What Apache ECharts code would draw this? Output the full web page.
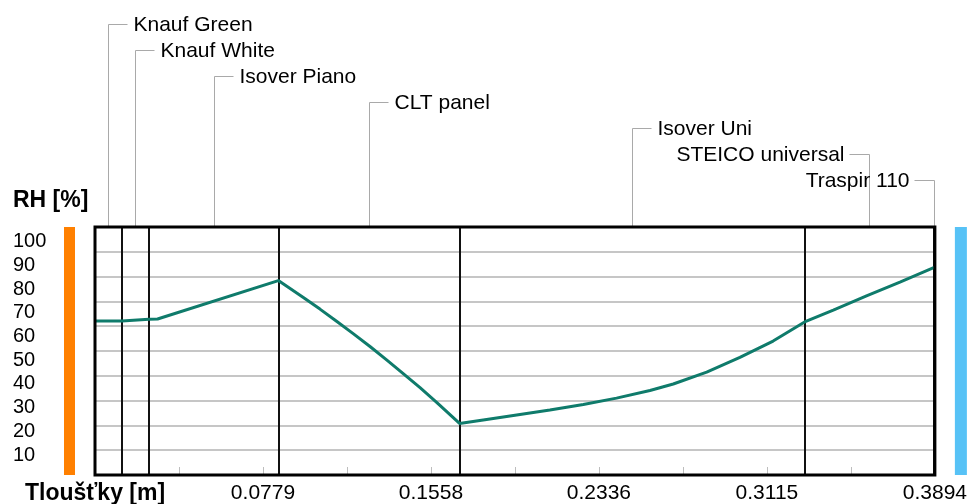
<!DOCTYPE html>
<html>
<head>
<meta charset="utf-8">
<script src="https://cdn.jsdelivr.net/npm/echarts@6/dist/echarts.min.js"></script>
<style>
html,body{margin:0;padding:0;background:#fff;}
#chart{width:970px;height:504px;}
</style>
</head>
<body>
<div id="chart"></div>
<script>
// ---- data ----
const layerNames = ['Knauf Green', 'Knauf White', 'Isover Piano', 'CLT panel', 'Isover Uni', 'STEICO universal', 'Traspir 110'];
const layerThickness = [0.0125, 0.0125, 0.06, 0.084, 0.16, 0.06, 0.0004];
const rhX = [0, 0.0125, 0.025, 0.029, 0.085,
             0.0966, 0.1043, 0.112, 0.1197, 0.1275, 0.1352, 0.1429, 0.1507, 0.1584, 0.169,
             0.18, 0.1955, 0.2109, 0.2264, 0.2418, 0.2573, 0.2681, 0.2836, 0.299, 0.3144, 0.329,
             0.3423, 0.3577, 0.3732, 0.3894];
const rhValues = [62.1, 62.1, 62.8, 62.9, 78.4,
                  71.6, 66.9, 62.0, 57.0, 51.8, 46.4, 40.9, 35.2, 29.3, 20.8,
                  22.2, 24.2, 26.2, 28.4, 31.0, 34.1, 36.7, 41.5, 47.4, 54.0, 61.7,
                  66.5, 72.2, 77.8, 83.8];
const xTickLabels = ['0.0779', '0.1558', '0.2336', '0.3115', '0.3894'];
const yTickLabels = ['10', '20', '30', '40', '50', '60', '70', '80', '90', '100'];
const xAxisName = 'Tloušťky [m]';
const yAxisName = 'RH [%]';
const xMax = 0.3894;
const xStep = 0.03894;

// derived
const boundaries = [];
let acc = 0;
const mids = [];
layerThickness.forEach(t => { mids.push(acc + t / 2); acc += t; boundaries.push(+acc.toFixed(5)); });

const FONT = 'Liberation Sans, Arial, sans-serif';
const chart = echarts.init(document.getElementById('chart'), null, {renderer: 'canvas'});

const option = {
  animation: false,
  backgroundColor: '#fff',
  grid: [
    {left: 95, right: 35, top: 227, bottom: 29},
    {left: 95, right: 35, top: 241.7, bottom: 25.3}
  ],
  xAxis: [
    {
      type: 'value', gridIndex: 0, min: 0, max: xMax, interval: xStep,
      axisLine: {show: false},
      axisTick: {show: true, inside: true, length: 8, lineStyle: {color: '#bdbdbd', width: 1}},
      axisLabel: {
        show: true, interval: 0, margin: 8, color: '#000', fontSize: 21, fontFamily: FONT,
        formatter: v => { const s = (+v).toFixed(4); return xTickLabels.includes(s) ? s : ''; }
      },
      splitLine: {show: false}
    },
    {type: 'value', gridIndex: 1, min: 0, max: 1, show: false}
  ],
  yAxis: [
    {
      type: 'value', gridIndex: 0, min: 0, max: 100, interval: 10,
      axisLine: {show: false}, axisTick: {show: false}, axisLabel: {show: false},
      splitLine: {show: true, lineStyle: {color: '#c6c6c6', width: 2}}
    },
    {
      type: 'value', gridIndex: 1, min: 0, max: 100, interval: 10,
      axisLine: {show: false}, axisTick: {show: false}, splitLine: {show: false},
      axisLabel: {
        show: true, align: 'left', margin: 82, color: '#000', fontSize: 20, fontFamily: FONT,
        formatter: v => yTickLabels.includes(String(v)) ? String(v) : ''
      }
    }
  ],
  series: [
    {
      type: 'line', xAxisIndex: 0, yAxisIndex: 0, data: [], z: 2, silent: true,
      markLine: {
        silent: true, symbol: 'none', precision: 6, label: {show: false},
        lineStyle: {color: '#111', width: 2, type: 'solid'},
        data: boundaries.map(b => ({xAxis: b}))
      }
    },
    {
      type: 'line', xAxisIndex: 0, yAxisIndex: 0, z: 5,
      data: rhX.map((x, i) => [x, rhValues[i]]),
      showSymbol: false, symbol: 'none',
      lineStyle: {color: '#0f7b6b', width: 3}
    }
  ]
};
chart.setOption(option);

// ---- decorations computed from the axes ----
const ctx = document.createElement('canvas').getContext('2d');
ctx.font = '21px ' + FONT;
const pL = chart.convertToPixel({gridIndex: 0}, [0, 0]);
const pR = chart.convertToPixel({gridIndex: 0}, [xMax, 100]);
const gLeft = pL[0], gBottom = pL[1], gRight = pR[0], gTop = pR[1];

const graphics = [];
layerNames.forEach((name, i) => {
  const px = Math.round(chart.convertToPixel({xAxisIndex: 0}, mids[i])) + 0.5;
  const rowY = 24 + 26 * i + 0.5;
  const w = ctx.measureText(name).width;
  const right = px + 25 + w > gRight;
  const hx = right ? px - 20 : px + 19;
  graphics.push({
    type: 'polyline', silent: true, z: 10,
    shape: {points: [[px, gTop], [px, rowY], [hx, rowY]]},
    style: {stroke: '#a9a9a9', lineWidth: 1, fill: null}
  });
  graphics.push({
    type: 'text', silent: true, z: 10,
    style: {
      x: right ? px - 25 : px + 25, y: rowY + 1, text: name,
      textAlign: right ? 'right' : 'left', textVerticalAlign: 'middle',
      font: '21px ' + FONT, fill: '#000'
    }
  });
});
// frame
graphics.push({
  type: 'rect', silent: true, z: 20,
  shape: {x: gLeft, y: gTop, width: gRight - gLeft, height: gBottom - gTop},
  style: {stroke: '#000', lineWidth: 3, fill: null}
});
// side bars
graphics.push({
  type: 'rect', silent: true, z: 10,
  shape: {x: gLeft - 31, y: gTop, width: 11, height: gBottom - gTop},
  style: {fill: '#ff8000'}
});
graphics.push({
  type: 'rect', silent: true, z: 10,
  shape: {x: gRight + 20, y: gTop, width: 12, height: gBottom - gTop},
  style: {fill: '#57c2f6'}
});
// axis titles
graphics.push({
  type: 'text', silent: true, z: 10,
  style: {x: 13, y: 201, text: yAxisName, textVerticalAlign: 'middle',
          font: 'bold 23px ' + FONT, fill: '#000'}
});
graphics.push({
  type: 'text', silent: true, z: 10,
  style: {x: 25, y: 494, text: xAxisName, textVerticalAlign: 'middle',
          font: 'bold 23px ' + FONT, fill: '#000'}
});
chart.setOption({graphic: graphics});
</script>
</body>
</html>
